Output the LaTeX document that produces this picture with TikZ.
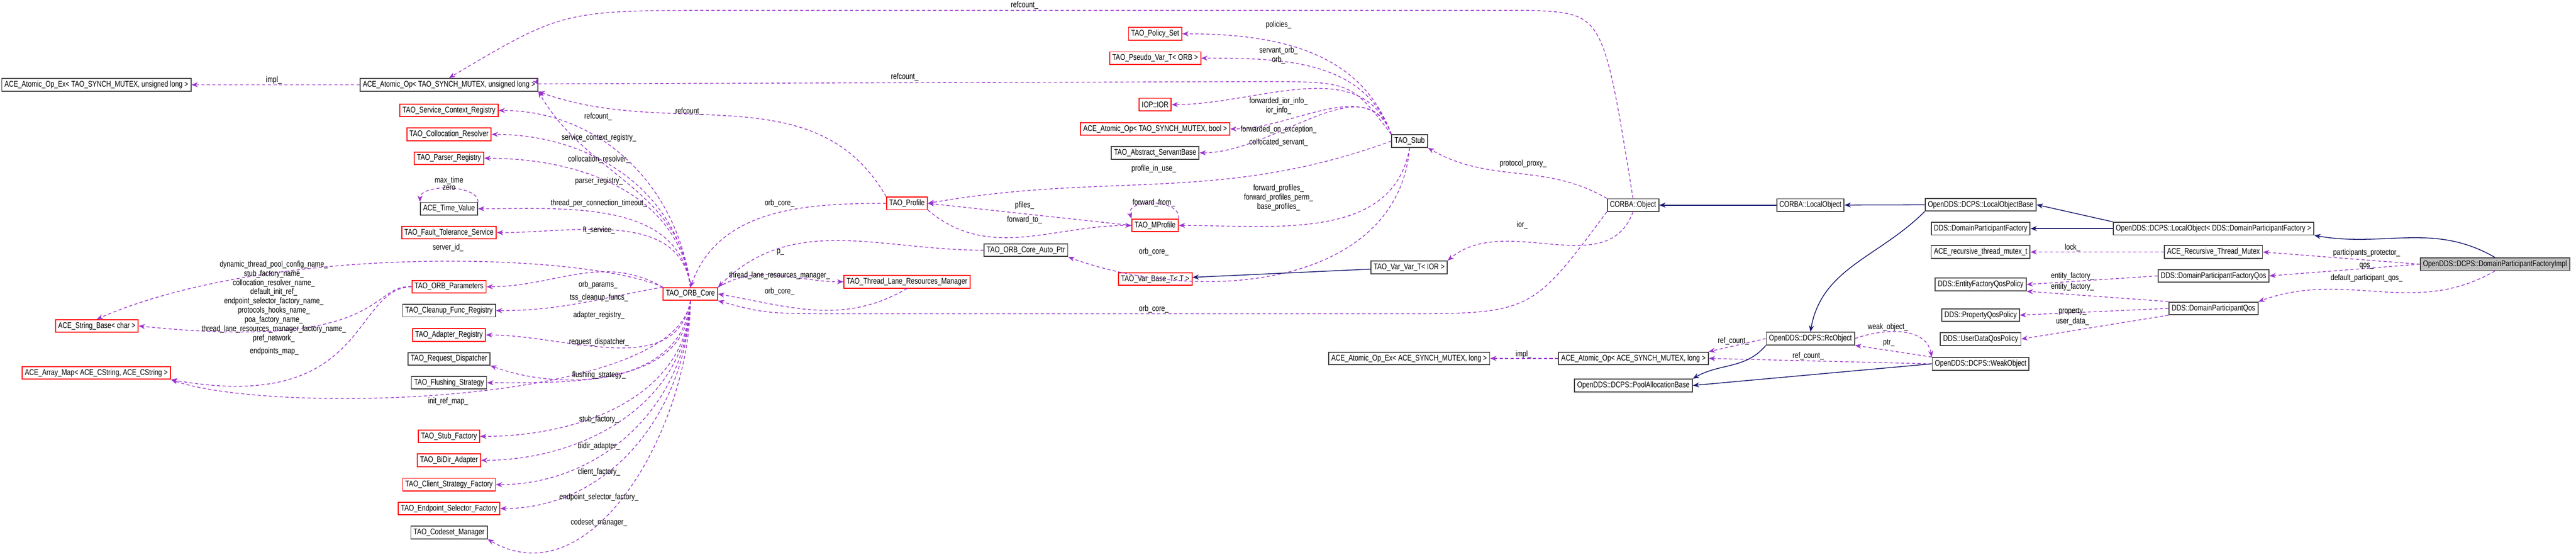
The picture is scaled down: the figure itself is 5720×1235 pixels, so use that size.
\documentclass[tikz,border=0pt]{standalone}
\usepackage{fontspec}
\newfontfamily\dx{Liberation Sans}[FakeStretch=0.8]
\usetikzlibrary{arrows.meta}
\usetikzlibrary{positioning}
\definecolor{memb}{HTML}{9A32CD}
\definecolor{navy}{HTML}{191970}
\begin{document}
\begin{tikzpicture}[x=0.01cm, y=-0.01cm,
        cls/.style = {draw=black!75, fill=white, line width=0.6pt, font=\dx\fontsize{5.2}{4.8}\selectfont,
            minimum height=0.28cm, inner xsep=0.06cm, inner ysep=0},
        redcls/.style = {cls, draw=red},
        lbl/.style = {font=\dx\fontsize{5.2}{4.8}\selectfont, align=center, inner sep=0},
        mem/.style = {draw=memb, dash pattern=on 2pt off 1.5pt, line width=0.45pt, -{Stealth[length=0.14cm,width=0.11cm]}},
        inh/.style = {draw=navy, line width=0.5pt, -{Stealth[length=0.14cm,width=0.11cm]}}]
    \useasboundingbox (0,0) rectangle (5720,1235);
    % left columns
    \node[cls] (atomexu) at (214,188) {ACE\_Atomic\_Op\_Ex< TAO\_SYNCH\_MUTEX, unsigned long >};
    \node[redcls] (strbase) at (215,723) {ACE\_String\_Base< char >};
    \node[redcls] (arrmap) at (214,827) {ACE\_Array\_Map< ACE\_CString, ACE\_CString >};
    \node[cls] (atomu) at (997,188) {ACE\_Atomic\_Op< TAO\_SYNCH\_MUTEX, unsigned long >};
    \node[redcls] (svcreg) at (997,245) {TAO\_Service\_Context\_Registry};
    \node[redcls] (colres) at (997,298) {TAO\_Collocation\_Resolver};
    \node[redcls] (parsreg) at (997,351) {TAO\_Parser\_Registry};
    \node[cls] (timeval) at (997,463) {ACE\_Time\_Value};
    \node[redcls] (ftserv) at (997,516) {TAO\_Fault\_Tolerance\_Service};
    \node[redcls] (orbpar) at (997,636) {TAO\_ORB\_Parameters};
    \node[cls] (cleanup) at (997,689) {TAO\_Cleanup\_Func\_Registry};
    \node[redcls] (adapreg) at (997,743) {TAO\_Adapter\_Registry};
    \node[cls] (reqdisp) at (997,796) {TAO\_Request\_Dispatcher};
    \node[cls] (flush) at (997,849) {TAO\_Flushing\_Strategy};
    \node[redcls] (stubfac) at (997,968) {TAO\_Stub\_Factory};
    \node[redcls] (bidir) at (997,1021) {TAO\_BiDir\_Adapter};
    \node[redcls] (clifac) at (997,1075) {TAO\_Client\_Strategy\_Factory};
    \node[redcls] (epsel) at (997,1128) {TAO\_Endpoint\_Selector\_Factory};
    \node[cls] (codeset) at (997,1181) {TAO\_Codeset\_Manager};
    \node[redcls] (core) at (1533,652) {TAO\_ORB\_Core};
    % middle
    \node[redcls] (profile) at (2014,451) {TAO\_Profile};
    \node[redcls] (thrlane) at (2014,625) {TAO\_Thread\_Lane\_Resources\_Manager};
    \node[cls] (autoptr) at (2278,555) {TAO\_ORB\_Core\_Auto\_Ptr};
    \node[redcls] (polset) at (2565,75) {TAO\_Policy\_Set};
    \node[redcls] (pseudo) at (2565,129) {TAO\_Pseudo\_Var\_T< ORB >};
    \node[redcls] (ior) at (2565,232) {IOP::IOR};
    \node[redcls] (atomb) at (2565,286) {ACE\_Atomic\_Op< TAO\_SYNCH\_MUTEX, bool >};
    \node[cls] (servant) at (2565,339) {TAO\_Abstract\_ServantBase};
    \node[redcls] (mprof) at (2565,500) {TAO\_MProfile};
    \node[redcls] (varbase) at (2565,619) {TAO\_Var\_Base\_T< T >};
    \node[cls] (stub) at (3130,313) {TAO\_Stub};
    \node[cls] (varvar) at (3129,593) {TAO\_Var\_Var\_T< IOR >};
    \node[cls] (atomexl) at (3129,795) {ACE\_Atomic\_Op\_Ex< ACE\_SYNCH\_MUTEX, long >};
    \node[cls] (obj) at (3626,455) {CORBA::Object};
    \node[cls] (atoml) at (3627,795) {ACE\_Atomic\_Op< ACE\_SYNCH\_MUTEX, long >};
    \node[cls] (pool) at (3627,855) {OpenDDS::DCPS::PoolAllocationBase};
    \node[cls] (locobj) at (4020,455) {CORBA::LocalObject};
    \node[cls] (rcobj) at (4020,751) {OpenDDS::DCPS::RcObject};
    % right
    \node[cls] (lobase) at (4398,454) {OpenDDS::DCPS::LocalObjectBase};
    \node[cls] (dpf) at (4398,507) {DDS::DomainParticipantFactory};
    \node[cls] (mutext) at (4398,559) {ACE\_recursive\_thread\_mutex\_t};
    \node[cls] (entfac) at (4398,631) {DDS::EntityFactoryQosPolicy};
    \node[cls] (propq) at (4398,699) {DDS::PropertyQosPolicy};
    \node[cls] (udata) at (4398,752) {DDS::UserDataQosPolicy};
    \node[cls] (weak) at (4398,807) {OpenDDS::DCPS::WeakObject};
    \node[cls] (lodpf) at (4915,507) {OpenDDS::DCPS::LocalObject< DDS::DomainParticipantFactory >};
    \node[cls] (recmut) at (4915,559) {ACE\_Recursive\_Thread\_Mutex};
    \node[cls] (dpfqos) at (4915,612) {DDS::DomainParticipantFactoryQos};
    \node[cls] (dpqos) at (4915,684) {DDS::DomainParticipantQos};
    \node[cls, fill=black!25] (impl) at (5540,586) {OpenDDS::DCPS::DomainParticipantFactoryImpl};

    % ORB core members
    \draw[mem] (atomu) -- (atomexu);
    \draw[mem] (core.north) to[out=95,in=-60] (atomu.south east);
    \foreach \t in {svcreg, colres, parsreg, timeval, ftserv}
        \draw[mem] (core.north) to[out=97,in=0] (\t.east);
    \draw[mem] (core.north west) to[out=150,in=0] (orbpar.east);
    \draw[mem] (core.north west) to[out=-170,in=0] (cleanup.east);
    \draw[mem] (core.south) to[out=-100,in=0] (adapreg.east);
    \draw[mem] (core.south) to[out=-95,in=-20] (reqdisp.south east);
    \foreach \t in {flush, stubfac, bidir, clifac, epsel}
        \draw[mem] (core.south) to[out=-92,in=0] (\t.east);
    \draw[mem] (core.south) to[out=-90,in=-30] (codeset.south east);
    \draw[mem] (timeval.north east) .. controls +(0,-40) and +(0,-40) .. (timeval.north west);
    \draw[mem] (core.north west) .. controls (1300,560) and (600,540) .. (strbase.north);
    \draw[mem] (orbpar.west) .. controls (820,630) and (860,780) .. (strbase.east);
    \draw[mem] (orbpar.west) .. controls (780,640) and (820,920) .. (arrmap.south east);
    \draw[mem] (core.south) .. controls (1500,900) and (600,920) .. (arrmap.south east);
    \draw[mem] (core.north east) to[out=30,in=180] (thrlane.west);
    \draw[mem] (thrlane.south) to[out=-150,in=-10] (core.east);
    \draw[mem] (profile.west) to[out=180,in=70] (core.north);
    \draw[mem] (autoptr.west) to[out=180,in=45] (core.north east);
    \draw[mem] (obj.south west) .. controls (3400,696) .. (3100,696) -- (1900,696) .. controls (1700,696) .. (core.south east);
    % stub members
    \draw[mem] (profile.north west) to[out=120,in=-20] (atomu.south east);
    \draw[mem] (stub.north west) .. controls (3000,181) .. (2800,181) -- (1194,186) -- (atomu.east);
    \draw[mem] (obj.north) .. controls (3560,30) .. (3400,23) -- (1600,23) .. controls (1250,23) .. (atomu.north);
    \foreach \t in {polset, pseudo, ior, atomb, servant}
        \draw[mem] (stub.north west) to[out=110,in=0] (\t.east);
    \draw[mem] (stub.west) to[out=200,in=10] (profile.east);
    \draw[mem] (mprof.west) -- (profile.east);
    \draw[mem] (profile.south east) to[out=-40,in=180] (mprof.west);
    \draw[mem] (mprof.north east) .. controls +(5,-45) and +(-15,-45) .. (mprof.north west);
    \draw[mem] (stub.south) to[out=-100,in=0] (mprof.east);
    \draw[mem] (stub.south) to[out=-95,in=-20] (autoptr.south east);
    \draw[mem] (obj.north west) to[out=150,in=-30] (stub.south east);
    \draw[mem] (obj.south) to[out=-110,in=40] (varvar.north east);
    \draw[inh] (varvar) -- (varbase);
    % OpenDDS part
    \draw[inh] (locobj) -- (obj);
    \draw[inh] (lobase) -- (locobj);
    \draw[inh] (lobase.south west) to[out=-135,in=80] (rcobj.north);
    \draw[inh] (lodpf.north west) -- (lobase.east);
    \draw[inh] (lodpf) -- (dpf);
    \draw[inh] (impl.north) to[out=150,in=-10] (lodpf.south east);
    \draw[mem] (impl.west) -- (recmut.east);
    \draw[mem] (impl.west) -- (dpfqos.east);
    \draw[mem] (impl.south) to[out=-150,in=20] (dpqos.north east);
    \draw[mem] (recmut) -- (mutext);
    \draw[mem] (dpfqos.west) -- (entfac.east);
    \draw[mem] (dpqos.north west) -- (entfac.south east);
    \draw[mem] (dpqos.west) -- (propq.east);
    \draw[mem] (dpqos.south west) -- (udata.east);
    \draw[mem] (rcobj.west) -- (atoml.north east);
    \draw[mem] (weak.west) -- (atoml.east);
    \draw[mem] (atoml) -- (atomexl);
    \draw[mem] (rcobj.east) to[out=20,in=100] (weak.north west);
    \draw[mem] (weak.north west) -- (rcobj.south east);
    \draw[inh] (rcobj.south west) to[out=-130,in=30] (pool.north east);
    \draw[inh] (weak.west) -- (pool.east);

    % labels
    \node[lbl] (limpl1) at (608,178) {impl\_};
    \node[lbl] (lrc1) at (2275,12) {refcount\_};
    \node[lbl] (lrc2) at (2009,171) {refcount\_};
    \node[lbl] (lrc3) at (1530,247) {refcount\_};
    \node[lbl] (lrc4) at (1328,259) {refcount\_};
    \node[lbl] (lscr) at (1330,306) {service\_context\_registry\_};
    \node[lbl] (lcol) at (1330,354) {collocation\_resolver\_};
    \node[lbl] (lpar) at (1330,402) {parser\_registry\_};
    \node[lbl] (ltpc) at (1330,451) {thread\_per\_connection\_timeout\_};
    \node[lbl] (lft) at (1330,511) {ft\_service\_};
    \node[lbl] (ltv) at (997,407) {max\_time\\zero};
    \node[lbl] (lsid) at (995,550) {server\_id\_};
    \node[lbl] (lnames) at (608,669) {dynamic\_thread\_pool\_config\_name\_\\stub\_factory\_name\_\\collocation\_resolver\_name\_\\default\_init\_ref\_\\endpoint\_selector\_factory\_name\_\\protocols\_hooks\_name\_\\poa\_factory\_name\_\\thread\_lane\_resources\_manager\_factory\_name\_\\pref\_network\_};
    \node[lbl] (lepm) at (609,780) {endpoints\_map\_};
    \node[lbl] (lop) at (1328,632) {orb\_params\_};
    \node[lbl] (ltss) at (1330,661) {tss\_cleanup\_funcs\_};
    \node[lbl] (lar) at (1330,699) {adapter\_registry\_};
    \node[lbl] (lrd) at (1330,759) {request\_dispatcher\_};
    \node[lbl] (lfs) at (1330,832) {flushing\_strategy\_};
    \node[lbl] (lirm) at (995,891) {init\_ref\_map\_};
    \node[lbl] (lsf) at (1330,931) {stub\_factory\_};
    \node[lbl] (lba) at (1330,990) {bidir\_adapter\_};
    \node[lbl] (lcf) at (1330,1047) {client\_factory\_};
    \node[lbl] (lesf) at (1330,1103) {endpoint\_selector\_factory\_};
    \node[lbl] (lcm) at (1330,1159) {codeset\_manager\_};
    \node[lbl] (loc1) at (1731,451) {orb\_core\_};
    \node[lbl] (lp) at (1733,559) {p\_};
    \node[lbl] (ltlr) at (1731,611) {thread\_lane\_resources\_manager\_};
    \node[lbl] (loc2) at (1731,647) {orb\_core\_};
    \node[lbl] (loc3) at (2562,686) {orb\_core\_};
    \node[lbl] (loc4) at (2562,559) {orb\_core\_};
    \node[lbl] (lpf) at (2275,456) {pfiles\_};
    \node[lbl] (lft2) at (2275,488) {forward\_to\_};
    \node[lbl] (lff) at (2562,450) {forward\_from\_};
    \node[lbl] (lpiu) at (2562,374) {profile\_in\_use\_};
    \node[lbl] (lpol) at (2839,55) {policies\_};
    \node[lbl] (lorb) at (2839,123) {servant\_orb\_\\orb\_};
    \node[lbl] (lfii) at (2839,235) {forwarded\_ior\_info\_\\ior\_info\_};
    \node[lbl] (lfoe) at (2839,287) {forwarded\_on\_exception\_};
    \node[lbl] (lcs) at (2839,316) {collocated\_servant\_};
    \node[lbl] (lfp) at (2839,439) {forward\_profiles\_\\forward\_profiles\_perm\_\\base\_profiles\_};
    \node[lbl] (lpp) at (3382,363) {protocol\_proxy\_};
    \node[lbl] (lior) at (3380,499) {ior\_};
    \node[lbl] (limpl2) at (3383,786) {impl\_};
    \node[lbl] (lrcn1) at (3849,757) {ref\_count\_};
    \node[lbl] (lrcn2) at (4015,790) {ref\_count\_};
    \node[lbl] (lwo) at (4192,726) {weak\_object\_};
    \node[lbl] (lptr) at (4194,761) {ptr\_};
    \node[lbl] (llock) at (4602,549) {lock\_};
    \node[lbl] (lpprot) at (5255,561) {participants\_protector\_};
    \node[lbl] (lqos) at (5255,590) {qos\_};
    \node[lbl] (ldpq) at (5255,617) {default\_participant\_qos\_};
    \node[lbl] (lef1) at (4602,612) {entity\_factory\_};
    \node[lbl] (lef2) at (4602,637) {entity\_factory\_};
    \node[lbl] (lprop) at (4602,691) {property\_};
    \node[lbl] (lud) at (4602,713) {user\_data\_};
\end{tikzpicture}
\end{document}
